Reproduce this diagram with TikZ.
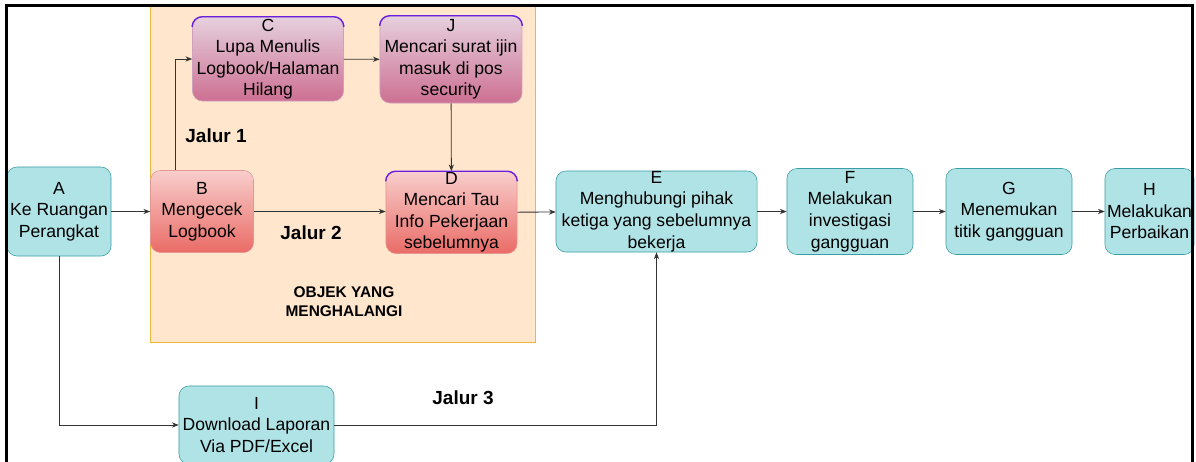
\documentclass[tikz,border=0pt]{standalone}
\usepackage{fontspec}
\setmainfont{Liberation Sans}
\usepackage{tikz}
\usetikzlibrary{positioning,calc,arrows.meta}
\definecolor{tealfill}{HTML}{B0E3E6}
\definecolor{tealline}{HTML}{3A9EA5}
\definecolor{redtop}{HTML}{F8CECC}
\definecolor{redbot}{HTML}{EA6B66}
\definecolor{redline}{HTML}{E59592}
\definecolor{pinktop}{HTML}{E6D0DE}
\definecolor{pinkbot}{HTML}{CD7092}
\definecolor{pinkline}{HTML}{CFA0BE}
\definecolor{rimcol}{HTML}{6A1FE0}
\definecolor{zonefill}{HTML}{FFE6CC}
\definecolor{zoneline}{HTML}{EDB83A}

\begin{document}
\begin{tikzpicture}[x=0.025cm, y=-0.025cm,
    flow box/.style={draw, rounded corners=0.25cm, align=center, inner sep=0pt, font=\fontsize{12.5}{15.3}\selectfont},
    teal box/.style={flow box, fill=tealfill, draw=tealline},
    red box/.style={flow box, top color=redtop, bottom color=redbot, draw=redline},
    pink box/.style={flow box, top color=pinktop, bottom color=pinkbot, draw=pinkline},
    jalur/.style={font=\fontsize{13.5}{16}\selectfont\bfseries},
    link/.style={draw=black!80, line width=0.6pt, -{Stealth[length=1.7mm,width=1.3mm]}},
    rim/.style={draw=rimcol, line width=1pt, rounded corners=0.25cm}]
    \useasboundingbox (0,0) rectangle (1196,461);
    \clip (0,0) rectangle (1196,461);

    % Area of the obstacles
    \draw[fill=zonefill, draw=zoneline] (150,6) rectangle (535,342);
    \node[font=\fontsize{11}{13.6}\selectfont\bfseries, align=center] (zone label) at (344,302) {OBJEK YANG\\MENGHALANGI};

    % Main steps
    \node[teal box, minimum width=2.6cm, minimum height=2.225cm] (A) at (59,211.5) {A\\Ke Ruangan\\Perangkat};
    \node[red box, minimum width=2.575cm, minimum height=2.05cm] (B) at (202,211.5) {B\\Mengecek\\Logbook};
    \node[pink box, minimum width=3.775cm, minimum height=2.1cm] (C) at (268,59) {C\\Lupa Menulis\\Logbook/Halaman\\Hilang};
    \node[pink box, minimum width=3.55cm, minimum height=2.175cm] (J) at (451,59.5) {J\\Mencari surat ijin\\masuk di pos\\security};
    \node[red box, minimum width=3.275cm, minimum height=2.05cm] (D) at (451.5,212.5) {D\\Mencari Tau\\Info Pekerjaan\\sebelumnya};
    \node[teal box, minimum width=5.025cm, minimum height=2.025cm] (E) at (656.5,211.5) {E\\Menghubungi pihak\\ketiga yang sebelumnya\\bekerja};
    \node[teal box, minimum width=3.15cm, minimum height=2.15cm] (F) at (850,211.5) {F\\Melakukan\\investigasi\\gangguan};
    \node[teal box, minimum width=3.15cm, minimum height=2.15cm] (G) at (1009,211.5) {G\\Menemukan\\titik gangguan};
    \node[teal box, minimum width=2.225cm, minimum height=2.15cm] (H) at (1149.5,211.5) {H\\Melakukan\\Perbaikan};
    \node[teal box, minimum width=3.875cm, minimum height=1.95cm] (I) at (256.5,425) {I\\Download Laporan\\Via PDF/Excel};

    % Purple top edges
    \foreach \n in {C,J,D}
        \draw[rim] ($(\n.north west)+(0,9)$) -- (\n.north west) -- (\n.north east) -- ($(\n.north east)+(0,9)$);

    % Path labels
    \node[jalur] (jalur1) at (216,136) {Jalur 1};
    \node[jalur] (jalur2) at (311,233) {Jalur 2};
    \node[jalur] (jalur3) at (463,398) {Jalur 3};

    % Connections
    \draw[link] (A) -- (B);
    \draw[link] (B) -- (B -| D.west);
    \draw[link] ($(B.north)+(-27,0)$) |- (C);
    \draw[link] (C) -- (J);
    \draw[link] (J) -- (D);
    \draw[link] (D) -- (E);
    \draw[link] (E) -- (F);
    \draw[link] (F) -- (G);
    \draw[link] (G) -- (H);
    \draw[link] (A) |- (I);
    \draw[link] (I) -| (E);

    % Outer frame
    \draw[line width=1.8pt] (6.5,470) -- (6.5,5.5) -- (1192.5,5.5) -- (1192.5,470);
\end{tikzpicture}
\end{document}
